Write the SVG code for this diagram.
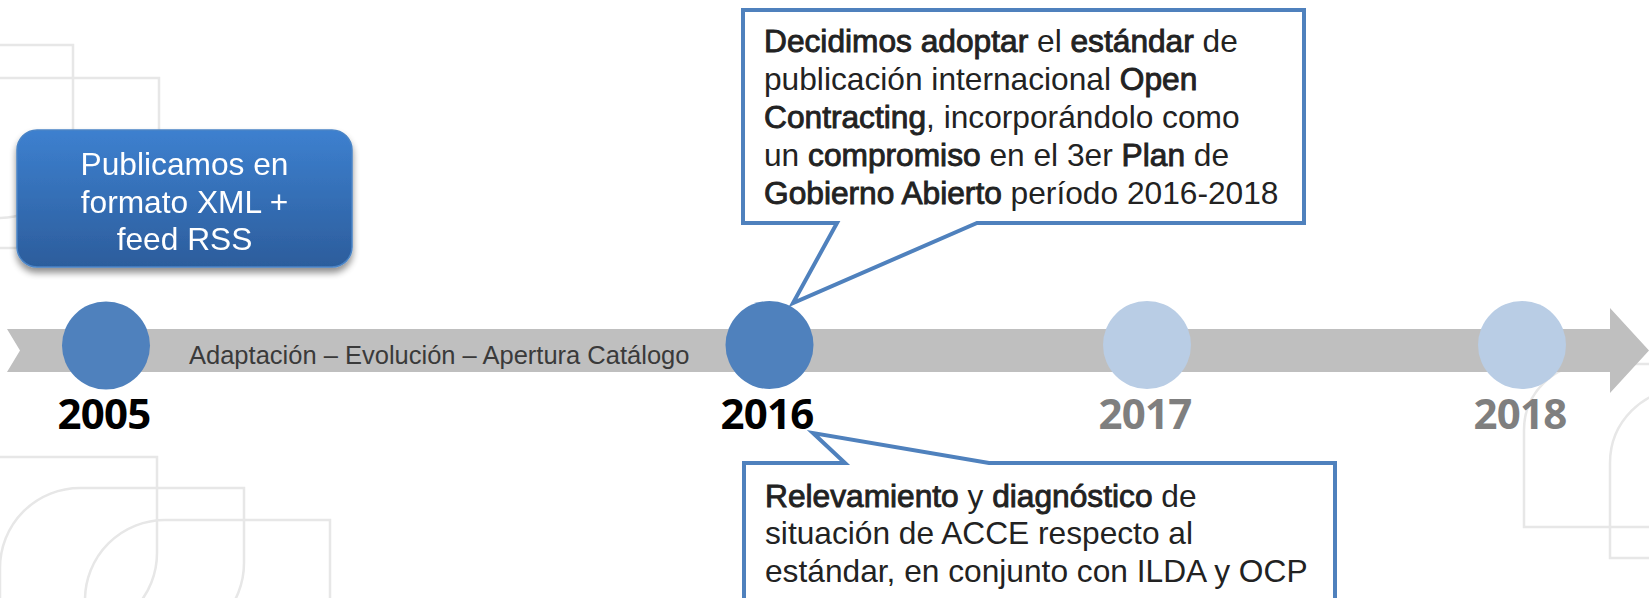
<svg xmlns="http://www.w3.org/2000/svg" width="1649" height="598" viewBox="0 0 1649 598">
<defs>
<linearGradient id="boxGrad" x1="0" y1="0" x2="0" y2="1">
<stop offset="0" stop-color="#3d80cf"/>
<stop offset="1" stop-color="#2c5d9c"/>
</linearGradient>
<filter id="shadow" x="-10%" y="-10%" width="120%" height="130%">
<feGaussianBlur in="SourceAlpha" stdDeviation="3.5"/>
<feOffset dx="0" dy="5" result="b"/>
<feComponentTransfer><feFuncA type="linear" slope="0.45"/></feComponentTransfer>
<feMerge><feMergeNode/><feMergeNode in="SourceGraphic"/></feMerge>
</filter>
</defs>
<style>
.bg{fill:none;stroke:#e7e7e7;stroke-width:2.5}
.txt{font-family:"Liberation Sans",Arial,sans-serif;font-size:31.7px;fill:#222}
.b{stroke:#222;stroke-width:0.9}
.yr{font-family:"Open Sans","Liberation Sans",sans-serif;font-weight:bold;font-size:42px;letter-spacing:-0.8px;text-anchor:middle}
.call{fill:#fff;stroke:#4f81bd;stroke-width:4;stroke-linejoin:miter}
.dark{fill:#4f81bd}
.light{fill:#b9cde5}
</style>
<rect width="1649" height="598" fill="#fff"/>
<g id="background">
<path class="bg" d="M-10,45 H73 V143 A75,75 0 0 1 -2,218"/>
<path class="bg" d="M-10,78 H159 V170 A78,78 0 0 1 81,248 H-10"/>
<path class="bg" d="M-10,457 H157 V553 A80,80 0 0 1 77,633"/>
<path class="bg" d="M0,610 V568 A80,80 0 0 1 80,488 H244 V563 A80,80 0 0 1 164,643"/>
<path class="bg" d="M85,610 V600 A80,80 0 0 1 165,520 H330 V610"/>
<path class="bg" d="M1660,527 H1524 V430 A66,66 0 0 1 1590,364 H1660"/>
<path class="bg" d="M1660,558 H1610 V463 A74,74 0 0 1 1684,389"/>
</g>
<g id="timeline">
<polygon points="7,329 1610,329 1610,308 1649,350.5 1610,393 1610,372 7,372 20,350.5" fill="#bfbfbf"/>
<text x="189" y="364" font-family="'Liberation Sans',Arial,sans-serif" font-size="25.5" fill="#3a3a3a">Adaptación – Evolución – Apertura Catálogo</text>
</g>
<g id="node-2005-box" filter="url(#shadow)">
<rect x="17" y="130" width="335" height="137" rx="20" ry="20" fill="url(#boxGrad)" stroke="#4a84c6" stroke-width="1.5"/>
<text class="txt" x="184.5" y="175" text-anchor="middle" style="fill:#fff">Publicamos en</text>
<text class="txt" x="184.5" y="213" text-anchor="middle" style="fill:#fff">formato XML +</text>
<text class="txt" x="184.5" y="250" text-anchor="middle" style="fill:#fff">feed RSS</text>
</g>
<g id="connectors">
<path class="call" d="M743,10 H1304 V223 H977 L793,303 L837,223 H743 Z"/>
<path class="call" d="M744,463 H845 L813,433 L989,463 H1335 V620 H744 Z"/>
</g>
<g id="node-2005">
<circle class="dark" cx="106" cy="345.5" r="44"/>
<text class="yr" x="104" y="429" fill="#000">2005</text>
</g>
<g id="node-2016">
<circle class="dark" cx="769.5" cy="345" r="44"/>
<text class="yr" x="767" y="429" fill="#000">2016</text>
</g>
<g id="node-2017">
<circle class="light" cx="1147" cy="345" r="44"/>
<text class="yr" x="1145" y="429" fill="#7f7f7f">2017</text>
</g>
<g id="node-2018">
<circle class="light" cx="1522" cy="345" r="44"/>
<text class="yr" x="1520" y="429" fill="#7f7f7f">2018</text>
</g>
<g id="callout-2016-top">
<text class="txt" x="764" y="52"><tspan class="b">Decidimos adoptar</tspan> el <tspan class="b">estándar</tspan> de</text>
<text class="txt" x="764" y="90">publicación internacional <tspan class="b">Open</tspan></text>
<text class="txt" x="764" y="128"><tspan class="b">Contracting</tspan>, incorporándolo como</text>
<text class="txt" x="764" y="165.5">un <tspan class="b">compromiso</tspan> en el 3er <tspan class="b">Plan</tspan> de</text>
<text class="txt" x="764" y="203.5"><tspan class="b">Gobierno Abierto</tspan> período 2016-2018</text>
</g>
<g id="callout-2016-bottom">
<text class="txt" x="765" y="507"><tspan class="b">Relevamiento</tspan> y <tspan class="b">diagnóstico</tspan> de</text>
<text class="txt" x="765" y="544">situación de ACCE respecto al</text>
<text class="txt" x="765" y="582">estándar, en conjunto con ILDA y OCP</text>
</g>
</svg>
